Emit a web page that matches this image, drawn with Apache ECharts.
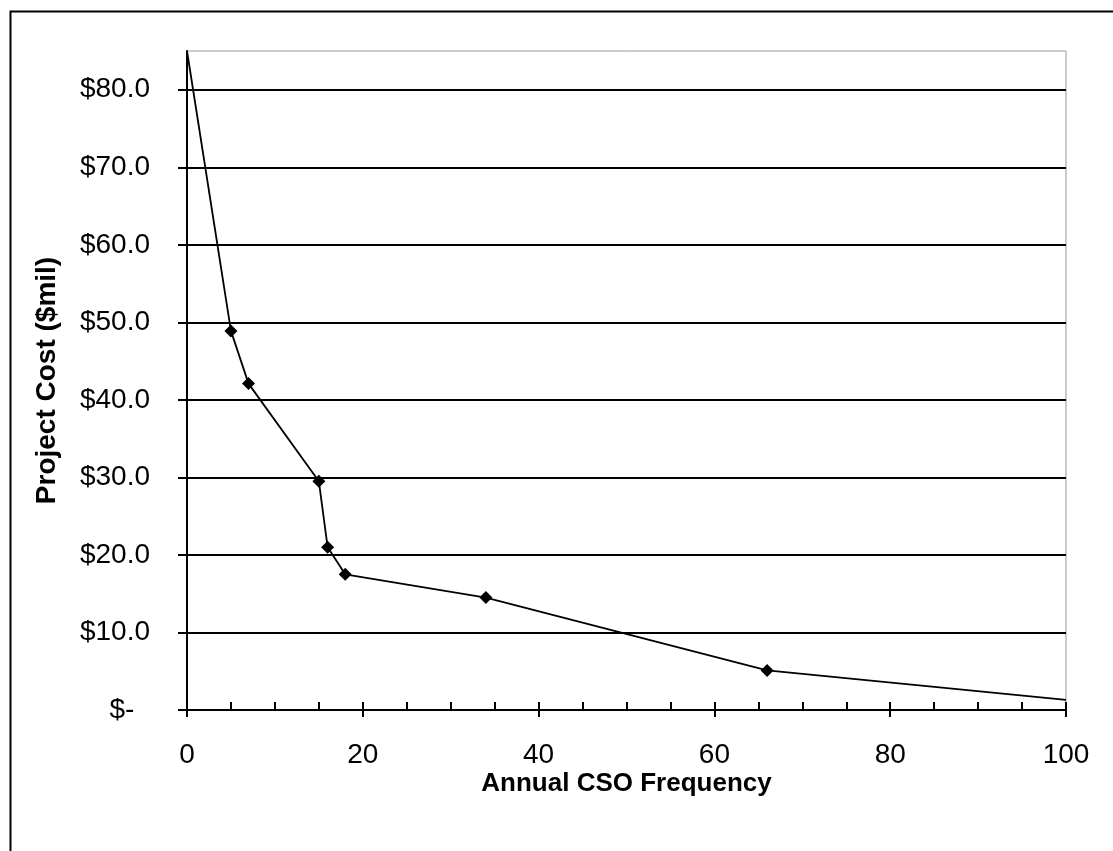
<!DOCTYPE html>
<html>
<head>
<meta charset="utf-8">
<script src="https://cdn.jsdelivr.net/npm/echarts@6/dist/echarts.min.js"></script>
<style>
html,body{margin:0;padding:0;background:#fff;}
#chart{width:1113px;height:851px;}
</style>
</head>
<body>
<div id="chart"></div>
<script>
// Data
const frequency = [0, 5, 7, 15, 16, 18, 34, 66, 100];
const costMil   = [85, 48.9, 42.1, 29.5, 21.0, 17.5, 14.5, 5.1, 1.3];
const yTickValues = [0, 10, 20, 30, 40, 50, 60, 70, 80];
const xTickValues = [0, 20, 40, 60, 80, 100];
const xTitle = 'Annual CSO Frequency';
const yTitle = 'Project Cost ($mil)';

const points = frequency.map((f, i) => [f, costMil[i]]);
const lastIdx = points.length - 1;

const chart = echarts.init(document.getElementById('chart'));
const FONT = '"Liberation Sans", Arial, sans-serif';

chart.setOption({
  animation: false,
  backgroundColor: '#fff',
  graphic: [{
    type: 'rect',
    left: 8, top: 9,
    shape: { width: 1130, height: 870 },
    style: { fill: 'none', stroke: '#000', lineWidth: 2 },
    silent: true, z: -1
  }],
  grid: {
    left: 187, right: 47, top: 51, bottom: 141,
    show: true, borderColor: '#999', borderWidth: 1, backgroundColor: 'transparent'
  },
  xAxis: [{
    type: 'value', min: 0, max: 100, interval: 20,
    position: 'bottom',
    name: xTitle, nameLocation: 'middle', nameGap: 61, nameMoveOverlap: false,
    nameTextStyle: { fontFamily: FONT, fontSize: 26, fontWeight: 'bold', color: '#000' },
    axisLine: { show: true, lineStyle: { color: '#000', width: 2 } },
    axisTick: { show: true, inside: false, length: 7, lineStyle: { color: '#000', width: 2 },
      customValues: xTickValues },
    axisLabel: { margin: 31, fontFamily: FONT, fontSize: 28, color: '#000',
      customValues: xTickValues },
    splitLine: { show: false }
  }, {
    type: 'value', min: 0, max: 100, interval: 5,
    position: 'bottom',
    axisLine: { show: false },
    axisTick: { show: true, inside: true, length: 8, lineStyle: { color: '#000', width: 2 } },
    axisLabel: { show: false },
    splitLine: { show: false }
  }],
  yAxis: {
    type: 'value', min: 0, max: 85, interval: 10,
    name: yTitle, nameLocation: 'middle', nameGap: 126,
    nameTextStyle: { fontFamily: FONT, fontSize: 28, fontWeight: 'bold', color: '#000' },
    axisLine: { show: true, lineStyle: { color: '#000', width: 2 } },
    axisTick: { show: true, inside: false, length: 9, lineStyle: { color: '#000', width: 2 },
      customValues: yTickValues },
    axisLabel: {
      margin: 37, fontFamily: FONT, fontSize: 28, color: '#000',
      customValues: yTickValues,
      formatter: v => v === 0 ? '$-  ' : '$' + v.toFixed(1)
    },
    splitLine: { show: true, lineStyle: { color: '#000', width: 2 } }
  },
  series: [{
    type: 'line',
    xAxisIndex: 0,
    data: points,
    symbol: 'diamond',
    symbolSize: (val, params) => (params.dataIndex === 0 || params.dataIndex === lastIdx) ? 0 : 13,
    showAllSymbol: true,
    lineStyle: { color: '#000', width: 1.8 },
    itemStyle: { color: '#000' },
    z: 5
  }]
});
</script>
</body>
</html>
